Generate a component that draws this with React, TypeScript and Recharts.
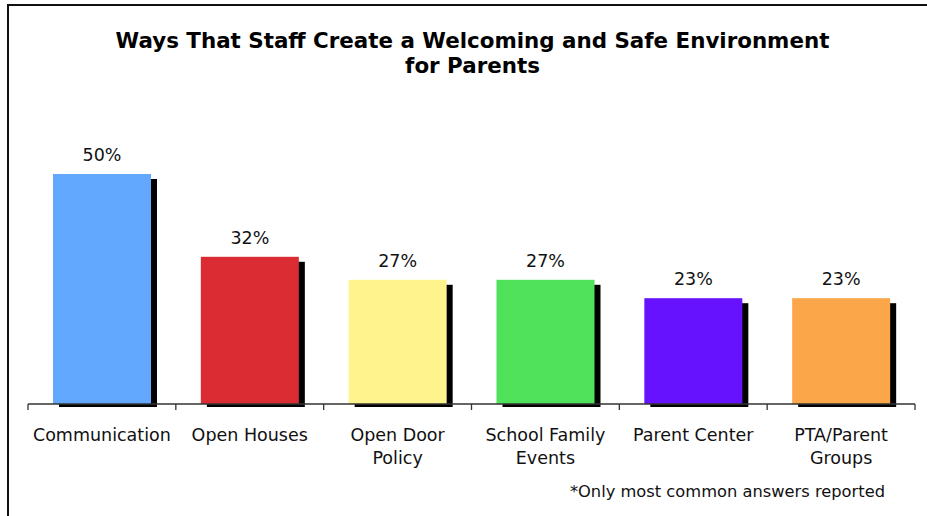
import { Bar, BarChart, Cell, LabelList, XAxis, YAxis } from "recharts";

const CATEGORIES = [
  "Communication",
  "Open Houses",
  "Open Door\nPolicy",
  "School Family\nEvents",
  "Parent Center",
  "PTA/Parent\nGroups",
];
const PERCENTS = [50, 32, 27, 27, 23, 23];
const COLORS = ["#62a8ff", "#dc2c33", "#fff38e", "#50e25a", "#6612ff", "#fca64a"];
const TITLE_LINES = ["Ways That Staff Create a Welcoming and Safe Environment", "for Parents"];
const FOOTNOTE = "*Only most common answers reported";

const W = 927;
const H = 516;
const M = { top: 128, right: 12, bottom: 52, left: 28 };
const BAND = (W - M.left - M.right) / CATEGORIES.length;
const FONT = "'DejaVu Sans', Verdana, sans-serif";

const data = CATEGORIES.map((name, i) => ({ name, value: PERCENTS[i] }));

function CategoryTick(props: any) {
  const { x, y, payload, index } = props;
  const lines = String(payload.value).split("\n");
  const half = BAND / 2;
  return (
    <g>
      <line x1={x - half} x2={x - half} y1={y} y2={y + 6} stroke="#333" strokeWidth={1.3} />
      {index === CATEGORIES.length - 1 && (
        <line x1={x + half} x2={x + half} y1={y} y2={y + 6} stroke="#333" strokeWidth={1.3} />
      )}
      <text x={x} y={y} textAnchor="middle" fontSize={17.5} fill="#111" fontFamily={FONT}>
        {lines.map((l, i) => (
          <tspan key={i} x={x} dy={i === 0 ? 37 : 23}>
            {l}
          </tspan>
        ))}
      </text>
    </g>
  );
}

function ShadowBar(props: any) {
  const { x, y, width, height, fill } = props;
  return (
    <g>
      <rect x={x + 6} y={y + 5} width={width} height={height - 2} fill="#000" />
      <rect x={x} y={y} width={width} height={height} fill={fill} />
    </g>
  );
}

export default function App() {
  return (
    <div style={{ position: "absolute", left: 0, top: 0, width: W, height: H, background: "#fff", fontFamily: FONT }}>
      <BarChart width={W} height={H} data={data} margin={M}>
        <YAxis hide domain={[0, 60]} />
        <XAxis
          dataKey="name"
          interval={0}
          height={60}
          tickSize={0}
          tickMargin={0}
          tickLine={false}
          axisLine={{ stroke: "#333", strokeWidth: 1.3 }}
          tick={<CategoryTick />}
        />
        <Bar dataKey="value" barSize={98} shape={<ShadowBar />} isAnimationActive={false}>
          {data.map((d, i) => (
            <Cell key={d.name} fill={COLORS[i]} />
          ))}
          <LabelList
            dataKey="value"
            position="top"
            offset={13}
            formatter={(v: any) => `${v}%`}
            style={{ fontSize: 17.5, fill: "#111", fontFamily: FONT }}
          />
        </Bar>
      </BarChart>
      <svg width={W} height={H} style={{ position: "absolute", left: 0, top: 0, pointerEvents: "none" }}>
        <path d={`M8 ${H} L8 5 L${W} 5`} fill="none" stroke="#111" strokeWidth={2} />
        {TITLE_LINES.map((t, i) => (
          <text
            key={t}
            x={472.5}
            y={48 + i * 25}
            textAnchor="middle"
            fontSize={21.4}
            fontWeight="bold"
            fill="#000"
            fontFamily={FONT}
          >
            {t}
          </text>
        ))}
        <text x={885} y={497} textAnchor="end" fontSize={16.3} fill="#111" fontFamily={FONT}>
          {FOOTNOTE}
        </text>
      </svg>
    </div>
  );
}
